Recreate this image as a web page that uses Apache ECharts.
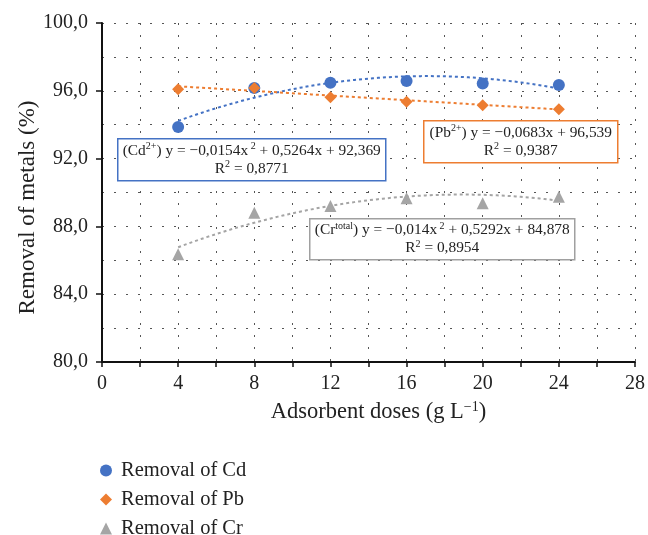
<!DOCTYPE html>
<html>
<head>
<meta charset="utf-8">
<script src="https://cdn.jsdelivr.net/npm/echarts@6/dist/echarts.min.js"></script>
<style>
  html, body { margin: 0; padding: 0; background: #fff; }
  #chart { width: 648px; height: 535px; }
</style>
</head>
<body>
<div id="chart"></div>
<script>
// Adsorbent doses (g L-1)
var doses = [4, 8, 12, 16, 20, 24];
// Removal of metals (%)
var removalCd = [93.86, 96.17, 96.47, 96.58, 96.43, 96.34];
var removalPb = [96.09, 96.17, 95.62, 95.36, 95.15, 94.91];
var removalCr = [86.35, 88.81, 89.20, 89.66, 89.36, 89.75];

// Fitted trend coefficients [a, b, c] for y = a*x^2 + b*x + c
var fitCd = [-0.0154, 0.5264, 92.369];
var fitPb = [0, -0.0683, 96.539];
var fitCr = [-0.014, 0.5292, 84.878];
var r2 = { cd: '0,8771', pb: '0,9387', cr: '0,8954' };

var legendNames = ['Removal of Cd', 'Removal of Pb', 'Removal of Cr'];
var colors = { cd: '#4472C4', pb: '#ED7D31', cr: '#A5A5A5' };
var serif = '"Liberation Serif", "DejaVu Serif", serif';

function pairs(xs, ys) {
  return xs.map(function (x, i) { return [x, ys[i]]; });
}
function trend(coef, x0, x1) {
  var out = [];
  for (var x = x0; x <= x1 + 1e-9; x += 0.25) {
    out.push([x, coef[0] * x * x + coef[1] * x + coef[2]]);
  }
  return out;
}

var chart = echarts.init(document.getElementById('chart'));

var gridDots = { color: '#555', width: 1, type: [2, 10] };

function trendSeries(coef, color) {
  return {
    type: 'line', data: trend(coef, doses[0], doses[doses.length - 1]),
    showSymbol: false, silent: true, z: 2,
    lineStyle: { color: color, width: 2, type: [3, 3] }
  };
}

var supStyle = { fontSize: 10, fontFamily: serif, color: '#222', verticalAlign: 'top', lineHeight: 18 };
var baseStyle = { fontSize: 15.4, fontFamily: serif, color: '#222', lineHeight: 18 };

function box(x, y, w, h, color, text) {
  return {
    type: 'group', left: x, top: y, z: 100,
    children: [
      { type: 'rect', z: 100, shape: { x: 0, y: 0, width: w, height: h },
        style: { fill: '#ffffff', stroke: color, lineWidth: 1.5 } },
      { type: 'text', z: 101, x: w / 2, y: h / 2,
        style: {
          text: text, align: 'center', verticalAlign: 'middle',
          rich: { b: baseStyle, s: supStyle },
          fontSize: 15.4, fontFamily: serif, fill: '#222'
        } }
    ]
  };
}

var legendText = { fontSize: 20.5, lineHeight: 18, fontFamily: serif, color: '#222', padding: [0, 0, 0, 4] };

chart.setOption({
  animation: false,
  backgroundColor: '#fff',
  textStyle: { fontFamily: serif },
  grid: { left: 102, right: 12, top: 23, bottom: 173 },
  legend: {
    data: legendNames, orient: 'vertical', left: 100, top: 460, height: 120, padding: 0,
    itemGap: 8, itemWidth: 12, itemHeight: 12,
    textStyle: legendText
  },
  xAxis: {
    type: 'value', min: 0, max: 28, interval: 4,
    name: 'Adsorbent doses (g L{s|−1})', nameLocation: 'middle', nameGap: 38,
    nameMoveOverlap: false,
    nameTextStyle: { fontSize: 22.5, fontFamily: serif, color: '#222', padding: [0, 0, 0, 20],
      rich: { s: { fontSize: 14, fontFamily: serif, color: '#222', verticalAlign: 'top', lineHeight: 24 } } },
    axisLine: { lineStyle: { color: '#111', width: 2 } },
    axisTick: { show: true, length: 5, lineStyle: { color: '#111', width: 1.5 } },
    minorTick: { show: true, splitNumber: 2, length: 5, lineStyle: { color: '#111', width: 1.5 } },
    axisLabel: { fontSize: 20, fontFamily: serif, color: '#222', margin: 12 },
    splitLine: { show: true, lineStyle: gridDots },
    minorSplitLine: { show: true, lineStyle: gridDots }
  },
  yAxis: {
    type: 'value', min: 80, max: 100, interval: 4,
    name: 'Removal of metals (%)', nameLocation: 'middle', nameGap: 63,
    nameMoveOverlap: false,
    nameTextStyle: { fontSize: 23, fontFamily: serif, color: '#222', padding: [0, 30, 0, 0] },
    axisLine: { show: true, lineStyle: { color: '#111', width: 2 } },
    axisTick: { show: true, length: 6, lineStyle: { color: '#111', width: 1.5 } },
    minorTick: { show: false, splitNumber: 2 },
    axisLabel: { fontSize: 20, fontFamily: serif, color: '#222', margin: 14,
      formatter: function (v) { return v.toFixed(1).replace('.', ','); } },
    splitLine: { show: true, lineStyle: gridDots },
    minorSplitLine: { show: true, lineStyle: gridDots }
  },
  series: [
    trendSeries(fitCd, colors.cd),
    trendSeries(fitPb, colors.pb),
    trendSeries(fitCr, colors.cr),
    { name: legendNames[0], type: 'scatter', data: pairs(doses, removalCd),
      symbol: 'circle', symbolSize: 12, itemStyle: { color: colors.cd, opacity: 1 }, z: 5 },
    { name: legendNames[1], type: 'scatter', data: pairs(doses, removalPb),
      symbol: 'diamond', symbolSize: 12, itemStyle: { color: colors.pb, opacity: 1 }, z: 5 },
    { name: legendNames[2], type: 'scatter', data: pairs(doses, removalCr),
      symbol: 'triangle', symbolSize: 12, itemStyle: { color: colors.cr, opacity: 1 }, z: 5 }
  ],
  graphic: [
    box(117, 138, 268, 42, colors.cd,
      '(Cd{s|2+}) y = −0,0154x{s| 2} + 0,5264x + 92,369\nR{s|2} = ' + r2.cd),
    box(423, 120, 194, 42, colors.pb,
      '(Pb{s|2+}) y = −0,0683x + 96,539\nR{s|2} = ' + r2.pb),
    box(309, 218, 265, 41, '#A0A0A0',
      '(Cr{s|total}) y = −0,014x{s| 2} + 0,5292x + 84,878\nR{s|2} = ' + r2.cr)
  ]
});
</script>
</body>
</html>
